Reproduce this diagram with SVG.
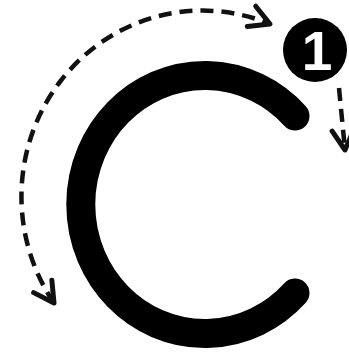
<svg xmlns="http://www.w3.org/2000/svg" width="349" height="358" viewBox="0 0 349 358">
  <defs>
    <marker id="chev" viewBox="0 0 26 28" refX="23" refY="14" markerWidth="26" markerHeight="28" markerUnits="userSpaceOnUse" orient="auto-start-reverse">
      <path d="M3,3 L23,14 L3,25" fill="none" stroke="#111" stroke-width="5" stroke-linecap="round" stroke-linejoin="round"/>
    </marker>
  </defs>
  <style>
    .dash { fill: none; stroke: #111; stroke-width: 4.5; stroke-dasharray: 13 8; }
    .cshape { fill: none; stroke: #000; stroke-width: 29; stroke-linecap: round; }
    .badge { fill: #000; }
    .num { font-family: "Liberation Sans", Arial, sans-serif; font-weight: bold; font-size: 55px; fill: #fff; }
  </style>
  <rect width="349" height="358" fill="#fff"/>
  <g id="c-shape">
    <path class="cshape" d="M 295,116 A 124 129 0 1 0 295,293"/>
  </g>
  <g id="badge-1">
    <circle class="badge" cx="315" cy="50" r="32"/>
    <text class="num" x="317" y="70" text-anchor="middle">1</text>
  </g>
  <g id="connectors">
    <path class="dash" d="M 54,303 A 181 186 0 0 1 270,24" marker-start="url(#chev)" marker-end="url(#chev)"/>
    <path class="dash" d="M 339,88 L 345,150" marker-end="url(#chev)"/>
  </g>
</svg>
